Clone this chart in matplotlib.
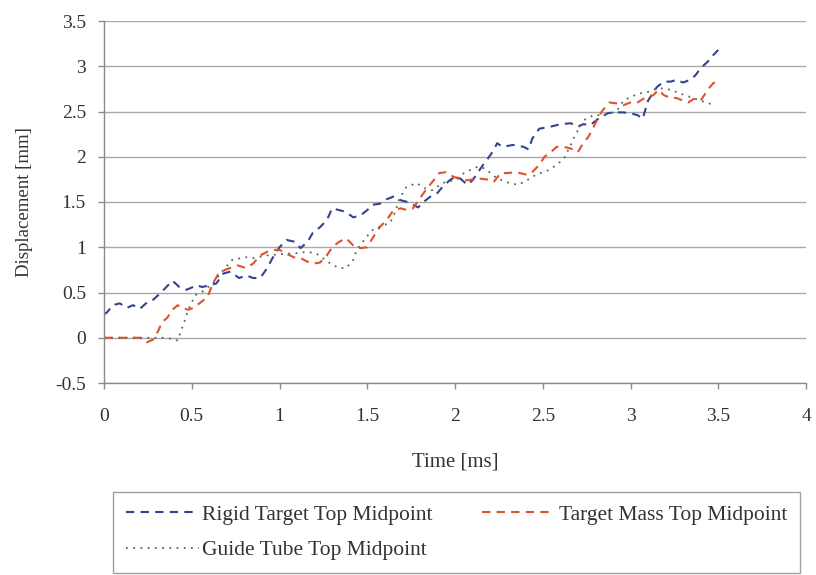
import matplotlib
matplotlib.use("Agg")
import matplotlib.pyplot as plt

# Rigid target top midpoint
rigid_t = [0.0, 0.017, 0.05, 0.09, 0.13, 0.165, 0.205, 0.245, 0.28, 0.32, 0.39, 0.43, 0.47, 0.53,
           0.56, 0.60, 0.64, 0.68, 0.72, 0.77, 0.81, 0.85, 0.89, 0.93, 0.96, 1.00, 1.04, 1.09,
           1.12, 1.16, 1.19, 1.23, 1.27, 1.30, 1.34, 1.38, 1.42, 1.46, 1.50, 1.53, 1.57, 1.61,
           1.65, 1.69, 1.73, 1.76, 1.79, 1.82, 1.86, 1.90, 1.93, 1.97, 2.00, 2.03, 2.07, 2.10,
           2.16, 2.18, 2.22, 2.24, 2.27, 2.33, 2.39, 2.42, 2.44, 2.48, 2.54, 2.60, 2.66, 2.70,
           2.73, 2.77, 2.83, 2.87, 2.90, 2.96, 3.00, 3.04, 3.07, 3.08, 3.10, 3.15, 3.19, 3.23,
           3.26, 3.30, 3.34, 3.37, 3.40, 3.44, 3.47, 3.50]
rigid_d = [0.26, 0.28, 0.36, 0.38, 0.33, 0.36, 0.32, 0.39, 0.42, 0.49, 0.63, 0.56, 0.53, 0.58,
           0.56, 0.58, 0.60, 0.71, 0.73, 0.66, 0.69, 0.66, 0.66, 0.77, 0.88, 1.00, 1.08, 1.06,
           0.99, 1.06, 1.16, 1.22, 1.30, 1.43, 1.41, 1.39, 1.33, 1.35, 1.41, 1.47, 1.48, 1.53,
           1.56, 1.52, 1.50, 1.47, 1.44, 1.50, 1.56, 1.60, 1.67, 1.74, 1.78, 1.76, 1.69, 1.74,
           1.91, 1.96, 2.07, 2.15, 2.11, 2.13, 2.11, 2.08, 2.20, 2.31, 2.33, 2.36, 2.37, 2.33,
           2.36, 2.35, 2.44, 2.48, 2.49, 2.49, 2.48, 2.46, 2.42, 2.49, 2.62, 2.77, 2.83, 2.83,
           2.85, 2.82, 2.85, 2.90, 2.98, 3.05, 3.12, 3.18]

# Target mass top midpoint
mass_t = [0.0, 0.09, 0.205, 0.245, 0.28, 0.31, 0.33, 0.36, 0.39, 0.42, 0.44, 0.48, 0.51, 0.55,
          0.59, 0.62, 0.65, 0.69, 0.76, 0.81, 0.85, 0.89, 0.93, 0.96, 1.00, 1.04, 1.08, 1.12,
          1.16, 1.19, 1.23, 1.27, 1.30, 1.34, 1.38, 1.42, 1.46, 1.50, 1.53, 1.57, 1.61, 1.65,
          1.69, 1.73, 1.76, 1.80, 1.84, 1.87, 1.91, 1.95, 1.99, 2.03, 2.07, 2.13, 2.18, 2.22,
          2.26, 2.30, 2.35, 2.41, 2.44, 2.48, 2.51, 2.54, 2.58, 2.62, 2.66, 2.70, 2.73, 2.76,
          2.79, 2.81, 2.84, 2.88, 2.92, 2.96, 3.00, 3.04, 3.09, 3.13, 3.16, 3.19, 3.23, 3.26,
          3.30, 3.33, 3.36, 3.40, 3.44, 3.47, 3.50]
mass_d = [0.00, 0.00, 0.00, -0.05, -0.02, 0.08, 0.17, 0.22, 0.31, 0.36, 0.33, 0.31, 0.33, 0.39,
          0.45, 0.60, 0.70, 0.75, 0.80, 0.77, 0.82, 0.91, 0.95, 0.97, 0.97, 0.93, 0.89, 0.88,
          0.84, 0.82, 0.83, 0.91, 1.00, 1.06, 1.10, 1.02, 0.99, 1.00, 1.10, 1.22, 1.30, 1.41,
          1.43, 1.41, 1.43, 1.54, 1.65, 1.72, 1.82, 1.83, 1.78, 1.75, 1.74, 1.76, 1.75, 1.72,
          1.82, 1.82, 1.83, 1.80, 1.83, 1.91, 2.00, 2.04, 2.11, 2.11, 2.09, 2.05, 2.15, 2.22,
          2.33, 2.41, 2.51, 2.60, 2.59, 2.57, 2.60, 2.60, 2.66, 2.68, 2.74, 2.68, 2.65, 2.65,
          2.62, 2.60, 2.64, 2.62, 2.74, 2.81, 2.85]

# Guide tube top midpoint
tube_t = [0.0, 0.10, 0.20, 0.28, 0.34, 0.38, 0.42, 0.44, 0.46, 0.48, 0.52, 0.56, 0.62, 0.66,
          0.73, 0.81, 0.85, 0.93, 1.04, 1.08, 1.16, 1.21, 1.29, 1.34, 1.38, 1.42, 1.44, 1.49,
          1.53, 1.59, 1.63, 1.66, 1.68, 1.72, 1.78, 1.83, 1.87, 1.93, 1.99, 2.06, 2.13, 2.17,
          2.24, 2.31, 2.36, 2.41, 2.46, 2.53, 2.58, 2.62, 2.66, 2.68, 2.73, 2.79, 2.85, 2.92,
          2.96, 3.00, 3.05, 3.09, 3.16, 3.23, 3.28, 3.34, 3.40, 3.44, 3.48]
tube_d = [0.00, 0.00, 0.00, 0.00, 0.00, -0.01, -0.03, 0.08, 0.19, 0.31, 0.47, 0.51, 0.60, 0.70,
          0.86, 0.89, 0.88, 0.91, 0.93, 0.93, 0.95, 0.93, 0.82, 0.77, 0.77, 0.86, 0.97, 1.10,
          1.19, 1.24, 1.27, 1.39, 1.52, 1.66, 1.71, 1.65, 1.63, 1.71, 1.74, 1.83, 1.89, 1.87,
          1.76, 1.71, 1.69, 1.74, 1.80, 1.85, 1.91, 1.98, 2.13, 2.22, 2.40, 2.46, 2.46, 2.50,
          2.62, 2.66, 2.70, 2.71, 2.76, 2.74, 2.70, 2.66, 2.62, 2.59, 2.58]

series_labels = ["Rigid Target Top Midpoint", "Target Mass Top Midpoint", "Guide Tube Top Midpoint"]
x_ticks = [0, 0.5, 1, 1.5, 2, 2.5, 3, 3.5, 4]
y_ticks = [-0.5, 0, 0.5, 1, 1.5, 2, 2.5, 3, 3.5]

plt.rcParams["font.family"] = ["Liberation Serif", "DejaVu Serif"]
text_col = "#333333"

fig = plt.figure(figsize=(8.16, 5.75), dpi=100)
ax = fig.add_axes([104 / 816, 1 - 383 / 575, 702 / 816, 362 / 575])

l1, = ax.plot(rigid_t, rigid_d, color="#34438f", lw=1.5, linestyle=(0, (4, 3)),
              label=series_labels[0])
l2, = ax.plot(mass_t, mass_d, color="#e2512c", lw=1.5, linestyle=(0, (4, 3)),
              label=series_labels[1])
l3, = ax.plot(tube_t, tube_d, color="#4f6b55", lw=1.3, linestyle=(0, (1, 3)),
              label=series_labels[2])

ax.set_xlim(0, 4)
ax.set_ylim(-0.5, 3.5)
ax.set_xticks(x_ticks)
ax.set_yticks(y_ticks)
ax.set_xticklabels([f"{v:g}" for v in x_ticks])
ax.set_yticklabels([f"{v:g}" for v in y_ticks])
ax.yaxis.grid(True, color="#a8a8a8", lw=1.0)
ax.set_axisbelow(True)
for s in ("top", "right"):
    ax.spines[s].set_visible(False)
for s in ("left", "bottom"):
    ax.spines[s].set_color("#8a8a8a")
    ax.spines[s].set_linewidth(1.0)
ax.tick_params(axis="both", direction="out", length=4, width=1.0, color="#8a8a8a",
               labelsize=14, labelcolor=text_col)
ax.tick_params(axis="y", pad=9)
ax.tick_params(axis="x", pad=14)
ax.set_xlabel("Time [ms]", fontsize=15, color=text_col, labelpad=20)
ax.set_ylabel("Displacement [mm]", fontsize=13.5, color=text_col, labelpad=16)

leg = fig.legend([l1, l3, l2], [series_labels[0], series_labels[2], series_labels[1]],
                 loc="lower left", bbox_to_anchor=(113 / 816, 2 / 575, 687 / 816, 80 / 575),
                 mode="expand", ncol=2, fontsize=15.5, handlelength=3.4, handletextpad=0.15,
                 frameon=True, fancybox=False, edgecolor="#8a8a8a", borderaxespad=0,
                 labelspacing=0.7, borderpad=0.6, columnspacing=0.3, labelcolor=text_col)
leg.get_frame().set_linewidth(1.0)

fig.savefig("out.png", dpi=100)
